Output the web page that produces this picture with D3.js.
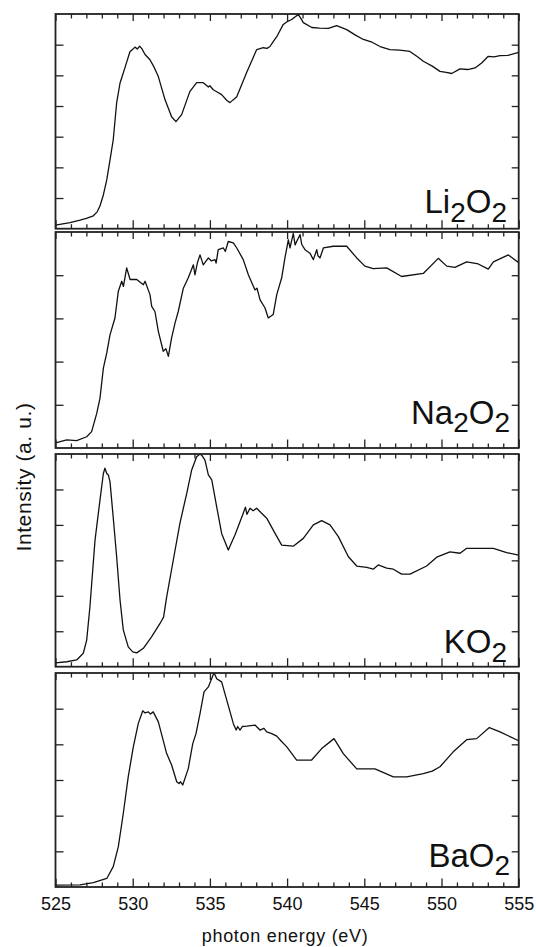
<!DOCTYPE html>
<html>
<head>
<meta charset="utf-8">
<script src="https://cdn.jsdelivr.net/npm/d3@7"></script>
<style>
  html, body { margin: 0; padding: 0; background: #fff; }
  svg { display: block; }
  text { font-family: "Liberation Sans", Arial, sans-serif; fill: #111; }
</style>
</head>
<body>
<script>
// ---- data (photon energy eV, intensity a.u.) ----
const energyTicks = [525, 530, 535, 540, 545, 550, 555];
const minorTicks = d3.range(525, 556, 1);
const sampleNames = ["Li", "Na", "K", "Ba"];   // label stems
const yMaxes = [7, 5, 6, 6];                    // per-panel intensity range

const li2o2 = [[525,0.12],[525.94,0.2],[526.59,0.28],[527.0,0.34],[527.45,0.42],[527.7,0.55],[527.88,0.74],[528.1,1.1],[528.32,1.59],[528.55,2.3],[528.74,2.9],[528.96,4.1],[529.18,4.75],[529.29,4.92],[529.5,5.25],[529.82,5.77],[530.0,5.85],[530.15,5.92],[530.3,5.86],[530.45,5.95],[530.58,5.88],[530.8,5.68],[531.12,5.51],[531.4,5.25],[531.66,4.96],[532.09,4.21],[532.52,3.65],[532.8,3.49],[533.17,3.72],[533.7,4.47],[534.14,4.76],[534.57,4.76],[534.9,4.62],[535.0,4.66],[535.22,4.53],[535.5,4.45],[535.76,4.37],[536.1,4.18],[536.3,4.11],[536.5,4.2],[536.74,4.3],[537.38,5.09],[538.03,5.84],[538.46,5.9],[538.7,5.88],[538.89,5.94],[539.1,6.1],[539.33,6.26],[539.75,6.66],[540.0,6.75],[540.3,6.82],[540.55,6.92],[540.73,6.98],[540.9,6.85],[541.05,6.72],[541.6,6.56],[542.1,6.54],[542.67,6.53],[543.21,6.62],[543.86,6.49],[544.4,6.32],[544.94,6.17],[545.5,6.08],[546.02,5.94],[546.66,5.84],[547.3,5.82],[547.95,5.78],[548.4,5.62],[548.82,5.46],[549.4,5.3],[549.9,5.13],[550.3,5.1],[550.66,5.06],[551.2,5.21],[551.7,5.19],[552.17,5.24],[552.6,5.4],[553.03,5.62],[553.4,5.6],[553.79,5.64],[554.3,5.65],[555,5.75]];

const na2o2 = [[525,0.12],[525.73,0.19],[526.37,0.17],[527.02,0.26],[527.34,0.38],[527.67,0.8],[527.88,1.15],[528.1,1.85],[528.32,2.2],[528.53,2.62],[528.85,3.01],[529.07,3.63],[529.29,3.86],[529.4,3.74],[529.61,4.17],[529.83,3.9],[530.26,3.9],[530.69,3.78],[530.8,3.86],[531.12,3.55],[531.23,3.28],[531.44,3.16],[531.66,2.7],[531.98,2.24],[532.15,2.3],[532.31,2.12],[532.52,2.55],[532.74,2.89],[532.95,3.16],[533.28,3.7],[533.6,3.94],[533.93,4.24],[534.03,4.01],[534.2,4.3],[534.36,4.47],[534.57,4.24],[534.9,4.4],[535.1,4.33],[535.33,4.36],[535.4,4.28],[535.54,4.59],[535.87,4.63],[536.0,4.55],[536.19,4.78],[536.52,4.75],[536.74,4.63],[537.16,4.36],[537.49,4.01],[537.92,3.66],[538.05,3.7],[538.25,3.43],[538.57,3.24],[538.78,3.01],[539.1,3.09],[539.33,3.55],[539.65,3.94],[539.86,4.4],[540.08,4.82],[540.19,4.63],[540.4,4.97],[540.52,4.7],[540.62,4.78],[540.84,4.94],[540.95,4.71],[541.16,4.59],[541.48,4.51],[541.7,4.36],[541.92,4.59],[542.0,4.45],[542.13,4.4],[542.35,4.63],[542.99,4.67],[543.86,4.67],[544.51,4.4],[545.04,4.21],[545.58,4.15],[546.45,4.17],[547.42,3.97],[548.82,4.04],[549.79,4.39],[550.34,4.21],[550.87,4.18],[551.63,4.31],[552.38,4.26],[553.03,4.14],[553.36,4.31],[554.33,4.47],[555,4.29]];

const ko2 = [[525,0.11],[525.73,0.14],[526.37,0.19],[526.8,0.38],[527.02,0.75],[527.23,1.69],[527.56,3.57],[527.88,4.7],[528.1,5.45],[528.2,5.6],[528.32,5.45],[528.42,5.41],[528.53,5.22],[528.74,4.2],[528.96,3.1],[529.18,1.88],[529.39,1.04],[529.71,0.56],[530.0,0.42],[530.26,0.39],[530.69,0.52],[531.23,0.85],[531.77,1.22],[532.0,1.4],[532.2,1.97],[532.63,3.01],[533.06,4.05],[533.5,4.89],[533.82,5.55],[534.14,5.92],[534.36,6.0],[534.5,5.95],[534.68,5.83],[534.9,5.41],[535.12,5.27],[535.44,4.51],[535.76,3.76],[536.19,3.29],[536.63,3.72],[537.16,4.33],[537.3,4.5],[537.4,4.3],[537.6,4.47],[537.8,4.4],[538.03,4.47],[538.3,4.35],[538.68,4.19],[539.22,3.76],[539.65,3.43],[540.4,3.4],[541.05,3.62],[541.7,4.0],[542.24,4.12],[542.78,4.0],[543.32,3.67],[543.97,3.1],[544.51,2.84],[545.16,2.8],[545.58,2.75],[545.9,2.87],[546.45,2.78],[546.88,2.75],[547.42,2.61],[547.96,2.61],[549.04,2.84],[549.69,3.09],[550.55,3.24],[551.2,3.2],[551.63,3.34],[552.49,3.34],[553.36,3.34],[554.22,3.22],[555,3.15]];

const bao2 = [[525,0.05],[526.59,0.06],[527.45,0.12],[528.32,0.24],[528.74,0.57],[529.07,1.13],[529.39,2.06],[529.71,3.09],[530.04,3.93],[530.36,4.58],[530.65,4.94],[530.8,4.88],[531.01,4.91],[531.15,4.85],[531.33,4.91],[531.66,4.63],[532.2,3.74],[532.52,3.42],[532.85,2.95],[533.0,2.9],[533.1,2.95],[533.24,2.86],[533.6,3.32],[533.89,4.02],[534.1,4.3],[534.36,4.86],[534.62,5.47],[534.9,5.61],[535.22,5.96],[535.3,5.98],[535.44,5.84],[535.76,5.75],[536.09,5.24],[536.52,4.58],[536.7,4.4],[536.8,4.5],[536.95,4.4],[537.1,4.5],[537.38,4.51],[537.92,4.54],[538.24,4.4],[538.5,4.45],[538.68,4.35],[539.0,4.3],[539.33,4.23],[539.6,4.1],[539.98,3.93],[540.62,3.56],[541.59,3.56],[542.24,3.88],[543.04,4.16],[543.64,3.74],[544.51,3.31],[545.69,3.31],[546.88,3.09],[547.75,3.09],[548.82,3.18],[549.4,3.25],[549.9,3.37],[550.76,3.79],[551.63,4.13],[552.28,4.16],[553.1,4.47],[553.79,4.35],[555,4.1]];

const series = [li2o2, na2o2, ko2, bao2];
const metalSub = ["2", "2", "", ""];  // Li2O2, Na2O2, KO2, BaO2

// ---- layout ----
const W = 536, H = 947;
const left = 55.5, right = 518.7;
const tops = [14, 232, 454, 673];
const heights = [214.7, 216, 212.7, 214];

const svg = d3.select("body").append("svg")
  .attr("width", W).attr("height", H);

const x = d3.scaleLinear().domain([525, 555]).range([left, right]);

series.forEach((data, i) => {
  const top = tops[i], h = heights[i];
  const y = d3.scaleLinear().domain([0, yMaxes[i]]).range([top + h, top]);
  const g = svg.append("g");

  // clip
  const cid = "clip" + i;
  svg.append("clipPath").attr("id", cid)
    .append("rect").attr("x", left).attr("y", top).attr("width", right - left).attr("height", h);

  g.append("path")
    .datum(data)
    .attr("clip-path", `url(#${cid})`)
    .attr("fill", "none")
    .attr("stroke", "#111")
    .attr("stroke-width", 1.3)
    .attr("stroke-linejoin", "round")
    .attr("d", d3.line().x(d => x(d[0])).y(d => y(d[1])));

  const yt = d3.range(1, yMaxes[i]);
  const minor = minorTicks.filter(v => v % 5 !== 0);

  function styleAxis(sel) {
    sel.select(".domain").remove();
    sel.selectAll(".tick line").attr("stroke", "#222").attr("stroke-width", 1.3);
    sel.selectAll(".tick text").remove();
  }

  // x ticks, inward, top and bottom
  g.append("g").attr("transform", `translate(0,${top + h})`)
    .call(d3.axisBottom(x).tickValues(minor).tickSize(-4.5)).call(styleAxis);
  g.append("g").attr("transform", `translate(0,${top + h})`)
    .call(d3.axisBottom(x).tickValues(energyTicks).tickSize(-8.5)).call(styleAxis);
  g.append("g").attr("transform", `translate(0,${top})`)
    .call(d3.axisTop(x).tickValues(minor).tickSize(-4.5)).call(styleAxis);
  g.append("g").attr("transform", `translate(0,${top})`)
    .call(d3.axisTop(x).tickValues(energyTicks).tickSize(-7)).call(styleAxis);

  // y ticks, inward, left and right
  g.append("g").attr("transform", `translate(${left},0)`)
    .call(d3.axisLeft(y).tickValues(yt).tickSize(-8)).call(styleAxis);
  g.append("g").attr("transform", `translate(${right},0)`)
    .call(d3.axisRight(y).tickValues(yt).tickSize(-7)).call(styleAxis);

  // frame
  g.append("rect")
    .attr("x", left).attr("y", top)
    .attr("width", right - left).attr("height", h)
    .attr("fill", "none").attr("stroke", "#222").attr("stroke-width", 1.8);

  // sample label
  const lbl = g.append("text")
    .attr("text-anchor", "end")
    .attr("font-size", 33);
  const rx = [507, 510, 507, 510][i];
  const by = [213.3, 424, 653.3, 866.7][i];
  lbl.attr("x", rx).attr("y", by);
  lbl.append("tspan").text(sampleNames[i]);
  if (metalSub[i]) {
    lbl.append("tspan").attr("font-size", 28).attr("dy", 8.4).text(metalSub[i]);
    lbl.append("tspan").attr("dy", -8.4).text("O");
  } else {
    lbl.append("tspan").text("O");
  }
  lbl.append("tspan").attr("font-size", 28).attr("dy", 8.4).text("2");
});

// x tick labels under bottom panel
const xLab = svg.append("g")
  .attr("transform", `translate(0,${tops[3] + heights[3]})`)
  .call(d3.axisBottom(x).tickValues(energyTicks).tickSize(0).tickPadding(10).tickFormat(d3.format("d")));
xLab.select(".domain").remove();
xLab.selectAll("text")
  .attr("font-size", 18)
  .attr("font-family", "Liberation Sans, Arial, sans-serif")
  .attr("fill", "#111");

// axis titles
svg.append("text")
  .attr("x", (left + right) / 2 - 2)
  .attr("y", 942)
  .attr("text-anchor", "middle")
  .attr("font-size", 18)
  .attr("letter-spacing", 0.7)
  .text("photon energy (eV)");

svg.append("text")
  .attr("transform", "translate(31,477) rotate(-90)")
  .attr("text-anchor", "middle")
  .attr("font-size", 21)
  .attr("letter-spacing", 0.6)
  .text("Intensity (a. u.)");
</script>
</body>
</html>
